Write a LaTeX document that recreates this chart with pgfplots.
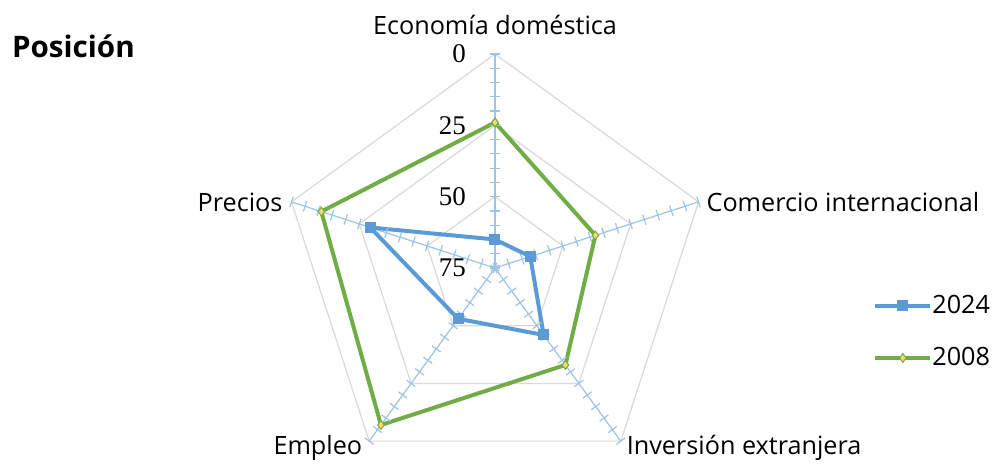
\documentclass[border=0pt]{standalone}
\usepackage{pgfplots}
\usepackage{pgfplotstable}
\pgfplotsset{compat=1.18}
\usepgfplotslibrary{polar}
\usepackage{fontspec}
\setmainfont{Open Sans}
\newfontfamily\numfont{Liberation Serif}

\definecolor{c2024}{HTML}{5B9BD5}
\definecolor{c2008}{HTML}{70AD47}
\definecolor{cdiam}{HTML}{FFD966}
\definecolor{cspoke}{HTML}{9DC3E6}
\definecolor{cgrid}{HTML}{D9D9D9}

% position (0 = best) per category, angles of the radar spokes
\pgfplotstableread{
ang  v2024 v2008
90   65    24
18   62    38
-54  46    33
-126 53    7
162  29    11
90   65    24
}\datos

\begin{document}
\begin{tikzpicture}[font=\fontsize{12.6}{15}\selectfont]
\begin{polaraxis}[
    hide axis, clip=false,
    scale only axis, width=214pt, height=214pt,
    ymin=0, ymax=75,
    y filter/.expression={75-y},
    legend image code/.code={\draw[mark repeat=2,mark phase=2,#1]
        plot coordinates {(0pt,0pt) (13.75pt,0pt) (27.5pt,0pt)};},
    legend style={at={(1.383,0.447)}, anchor=north west, draw=none, fill=none,
        row sep=11.5pt, font=\fontsize{12.6}{15}\selectfont, inner sep=0pt,
        nodes={inner xsep=0pt}},
    legend cell align=left,
]
% grid pentagons
\addplot[cgrid, line width=0.6pt, forget plot] coordinates {(90,0) (18,0) (-54,0) (-126,0) (162,0) (90,0)};
\addplot[cgrid, line width=0.6pt, forget plot] coordinates {(90,25) (18,25) (-54,25) (-126,25) (162,25) (90,25)};
\addplot[cgrid, line width=0.6pt, forget plot] coordinates {(90,50) (18,50) (-54,50) (-126,50) (162,50) (90,50)};
% spokes with minor ticks every 5
\foreach \a in {90,18,-54,-126,162}{
  \edef\temp{\noexpand\addplot[cspoke, line width=0.6pt, forget plot, mark=|,
      mark size=2.7pt, mark options={rotate=\a, line width=0.6pt}]
    coordinates {(\a,0) (\a,5) (\a,10) (\a,15) (\a,20) (\a,25) (\a,30) (\a,35)
      (\a,40) (\a,45) (\a,50) (\a,55) (\a,60) (\a,65) (\a,70) (\a,75)};}
  \temp
}
% series
\addplot[c2024, line width=2pt, mark=square*, mark size=2.5pt,
    mark options={fill=c2024, draw=c2024, line width=0.5pt}]
    table[x=ang, y=v2024] {\datos};
\addlegendentry{2024}
\addplot[c2008, line width=2pt, mark=diamond*, mark size=2.2pt,
    mark options={fill=cdiam, draw=c2008, line width=0.5pt}]
    table[x=ang, y=v2008] {\datos};
\addlegendentry{2008}
% radial labels (raw radius: 75 = position 0)
\node[anchor=east, font=\numfont\fontsize{13.5}{15}\selectfont, xshift=-11pt] at (axis cs:90,75) {0};
\node[anchor=east, font=\numfont\fontsize{13.5}{15}\selectfont, xshift=-11pt] at (axis cs:90,50) {25};
\node[anchor=east, font=\numfont\fontsize{13.5}{15}\selectfont, xshift=-11pt] at (axis cs:90,25) {50};
\node[anchor=east, font=\numfont\fontsize{13.5}{15}\selectfont, xshift=-11pt] at (axis cs:90,0) {75};
% category labels
\node[anchor=center, yshift=14.5pt] at (axis cs:90,75) {Economía doméstica};
\node[anchor=west, xshift=0.5pt] at (axis cs:18,75) {Comercio internacional};
\node[anchor=west, xshift=-0.5pt, yshift=-3.5pt] at (axis cs:-54,75) {Inversión extranjera};
\node[anchor=east, xshift=0pt, yshift=-3.5pt] at (axis cs:-126,75) {Empleo};
\node[anchor=east, xshift=-1pt] at (axis cs:162,75) {Precios};
\node[anchor=west, font=\bfseries\fontsize{14.8}{17}\selectfont, xshift=-245pt, yshift=111pt] at (axis cs:0,0) {Posición};
\coordinate (C) at (axis cs:0,0);
\end{polaraxis}
\pgfresetboundingbox
\path ([shift={(-247.5pt,-97.5pt)}]C) rectangle ([shift={(249.5pt,134pt)}]C);
\end{tikzpicture}
\end{document}
